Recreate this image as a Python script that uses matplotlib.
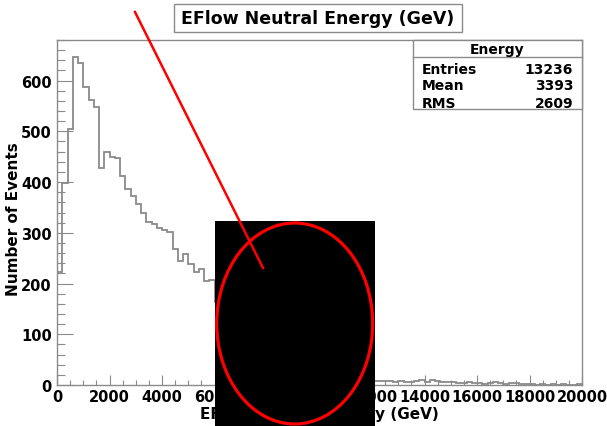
import matplotlib.pyplot as plt
import numpy as np
from matplotlib.patches import Rectangle, Ellipse
from matplotlib.ticker import MultipleLocator

# EFlow neutral energy, 100 bins of 200 GeV from 0 to 20000 GeV
bin_width = 200
counts = [
    222, 399, 505, 647, 635, 587, 562, 547, 428, 460,
    450, 447, 412, 386, 373, 356, 339, 322, 317, 310,
    306, 301, 268, 245, 258, 238, 222, 228, 205, 207,
    163, 155, 146, 137, 128, 118, 110, 101, 92, 85,
    77, 70, 64, 58, 52, 47, 42, 37, 33, 29,
    26, 23, 20, 18, 16, 14, 12, 11, 10, 9,
    8, 7, 7, 8, 5, 8, 6, 6, 8, 9,
    6, 9, 7, 5, 5, 6, 4, 4, 5, 4,
    4, 2, 3, 5, 4, 2, 3, 3, 1, 1,
    1, 0, 1, 0, 1, 0, 1, 0, 0, 1,
]
edges = np.arange(len(counts) + 1) * bin_width

stats_title = "Energy"
stats_names = ["Entries", "Mean", "RMS"]
stats_values = ["13236", "3393", "2609"]

W, H = 607, 427
fig = plt.figure(figsize=(W / 100, H / 100), dpi=100)
fig.patch.set_facecolor("white")

ax = fig.add_axes([57 / W, 1 - 386 / H, 525 / W, 345 / H])
ax.stairs(counts, edges, color="#8a8a8a", linewidth=1.3)
ax.set_xlim(0, 20000)
ax.set_ylim(0, 680)

frame_col = "#8a8a8a"
for sp in ax.spines.values():
    sp.set_color(frame_col)
    sp.set_linewidth(1.0)

ax.xaxis.set_major_locator(MultipleLocator(2000))
ax.xaxis.set_minor_locator(MultipleLocator(500))
ax.yaxis.set_major_locator(MultipleLocator(100))
ax.yaxis.set_minor_locator(MultipleLocator(20))
ax.tick_params(axis="x", which="major", direction="in", length=7.4, width=0.8,
               color=frame_col, pad=2.9, labelsize=10.5)
ax.tick_params(axis="x", which="minor", direction="in", length=3.7, width=0.8,
               color=frame_col)
ax.tick_params(axis="y", which="major", direction="in", length=11.3, width=0.8,
               color=frame_col, pad=3.8, labelsize=10.5)
ax.tick_params(axis="y", which="minor", direction="in", length=5.7, width=0.8,
               color=frame_col)
for lab in ax.get_xticklabels() + ax.get_yticklabels():
    lab.set_fontweight("bold")

ax.set_xlabel("EFlow Neutral Energy (GeV)", fontsize=11, fontweight="bold")
ax.set_ylabel("Number of Events", fontsize=11, fontweight="bold")
ax.xaxis.set_label_coords(0.5, -0.061)
ax.yaxis.set_label_coords(-0.069, 0.484)

# overlay in pixel coordinates for the title box, stats box and markup
ov = fig.add_axes([0, 0, 1, 1], facecolor="none")
ov.set_xlim(0, W)
ov.set_ylim(H, 0)
ov.axis("off")

ov.add_patch(Rectangle((174, 5), 288, 28, facecolor="white",
                       edgecolor=frame_col, linewidth=1.0))
ov.text(318, 19.5, "EFlow Neutral Energy (GeV)", ha="center", va="center",
        fontsize=12.5, fontweight="bold")

ov.add_patch(Rectangle((412.7, 41), 169.6, 69, facecolor="white",
                       edgecolor=frame_col, linewidth=1.0))
ov.plot([412.7, 582.3], [58.3, 58.3], color=frame_col, linewidth=1.0)
ov.text(497.5, 54, stats_title, ha="center", va="baseline",
        fontsize=10, fontweight="bold")
for i, (name, val) in enumerate(zip(stats_names, stats_values)):
    yb = 73.5 + i * 17
    ov.text(421.7, yb, name, ha="left", va="baseline", fontsize=10, fontweight="bold")
    ov.text(573.3, yb, val, ha="right", va="baseline", fontsize=10, fontweight="bold")

# black patch with red circle and pointer line
ov.add_patch(Rectangle((215, 222.3), 160, 205, facecolor="black", edgecolor="none"))
ov.add_patch(Ellipse((294.7, 324.5), 156, 201, facecolor="none",
                     edgecolor="#ff0000", linewidth=2.3))
ov.plot([135, 263], [13, 269], color="#ff0000", linewidth=1.8)

fig.savefig("out.png", dpi=100)
